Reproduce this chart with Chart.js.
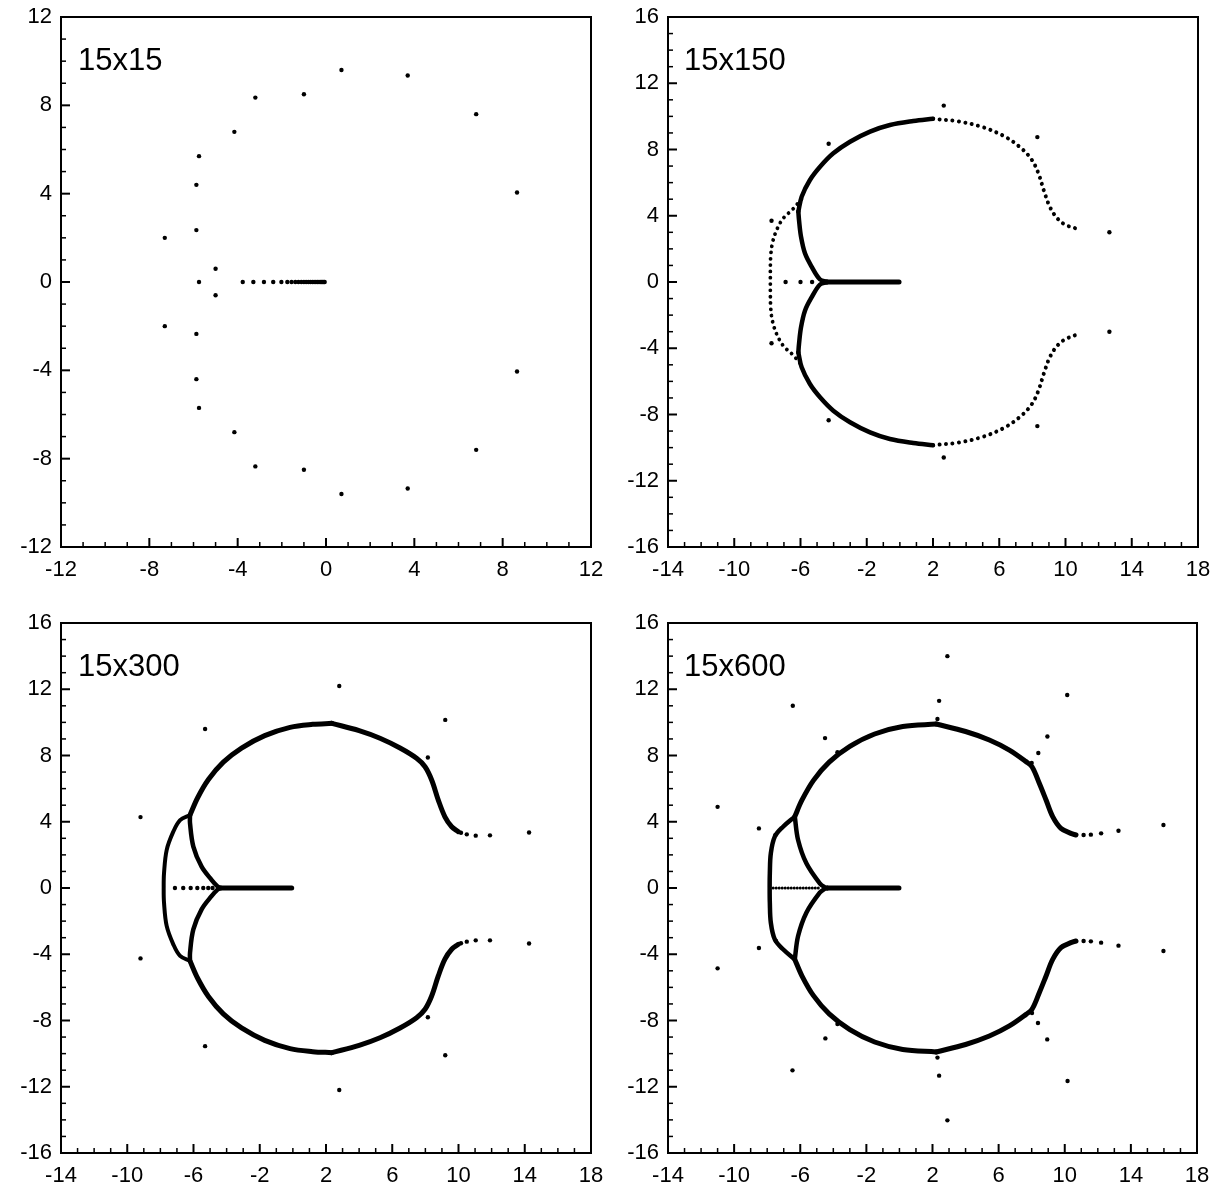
<!DOCTYPE html>
<html>
<head>
<meta charset="utf-8">
<script src="https://cdn.jsdelivr.net/npm/chart.js@4.4.0/dist/chart.umd.min.js"></script>
<style>
  html, body { margin: 0; padding: 0; background: #fff; }
  #wrap { position: relative; width: 1216px; height: 1188px; background: #fff; overflow: hidden; }
  canvas { position: absolute; }
  .lbl { position: absolute; font-family: 'Liberation Sans', Arial, Helvetica, sans-serif; font-size: 31px; line-height: 31px; color: #000; white-space: nowrap; }
</style>
</head>
<body>
<div id="wrap">
  <canvas id="c1" width="608" height="600" style="left:0;top:0;width:608px;height:600px"></canvas>
  <canvas id="c2" width="608" height="600" style="left:608px;top:0;width:608px;height:600px"></canvas>
  <canvas id="c3" width="608" height="588" style="left:0;top:600px;width:608px;height:588px"></canvas>
  <canvas id="c4" width="608" height="588" style="left:608px;top:600px;width:608px;height:588px"></canvas>
  <div class="lbl" style="left:78px;top:44px">15x15</div>
  <div class="lbl" style="left:684px;top:44px">15x150</div>
  <div class="lbl" style="left:78px;top:650px">15x300</div>
  <div class="lbl" style="left:684px;top:650px">15x600</div>
</div>
<script>
// ---------- tick labels ----------
const ticks1 = [-12, -8, -4, 0, 4, 8, 12];
const ticksX = [-14, -10, -6, -2, 2, 6, 10, 14, 18];
const ticksY = [-16, -12, -8, -4, 0, 4, 8, 12, 16];

// ---------- panel 1 : 15x15 ----------
const p1Dots = [[0.7,9.6],[3.7,9.35],[-1.0,8.5],[-3.2,8.35],[6.8,7.6],[-4.15,6.8],[-5.75,5.7],[-5.87,4.4],[8.65,4.05],
  [-5.87,2.35],[-7.3,2.0],[-5.0,0.6],[-5.75,0],[-5.0,-0.6],[-7.3,-2.0],[-5.87,-2.35],[-5.87,-4.4],[-5.75,-5.7],
  [-4.15,-6.8],[-3.2,-8.35],[-1.0,-8.5],[0.7,-9.6],[3.7,-9.35],[6.8,-7.6],[8.65,-4.05]];
const p1Axis = [[-3.77,0],[-3.29,0],[-2.81,0],[-2.39,0],[-2.02,0],[-1.75,0],[-1.56,0],[-1.39,0],[-1.25,0],[-1.12,0],
  [-1.0,0],[-0.9,0],[-0.8,0],[-0.71,0],[-0.62,0],[-0.54,0],[-0.46,0],[-0.39,0],[-0.32,0],[-0.26,0],[-0.2,0],[-0.15,0],[-0.1,0],[-0.06,0]];

// ---------- panel 2 : 15x150 ----------
const p2Dots = [[-4.3,8.35],[2.65,10.65],[8.3,8.75],[12.65,3.0],[-7.75,3.7],[-6.9,0],[-6.0,0],[-5.3,0],
  [-7.75,-3.7],[-4.3,-8.35],[2.65,-10.6],[8.3,-8.7],[12.65,-3.0]];
const p2Axis = [[-4.4,0],[-0.05,0]];
const p2InnerUp = [[-4.4,0.02],[-4.82,0.15],[-5.33,0.93],[-5.73,1.73],[-5.97,2.74],[-6.09,3.74],[-6.13,4.25]];
const p2InnerDn = [[-4.4,-0.02],[-4.82,-0.15],[-5.33,-0.93],[-5.73,-1.73],[-5.97,-2.74],[-6.09,-3.74],[-6.13,-4.25]];
const p2ArcUp = [[-6.13,4.25],[-5.93,5.15],[-5.43,6.16],[-4.82,6.96],[-4.02,7.77],[-3.01,8.47],[-1.8,9.08],[-0.6,9.48],[0.81,9.72],[2.0,9.85]];
const p2ArcDn = [[-6.13,-4.25],[-5.93,-5.15],[-5.43,-6.16],[-4.82,-6.96],[-4.02,-7.77],[-3.01,-8.47],[-1.8,-9.08],[-0.6,-9.48],[0.81,-9.72],[2.0,-9.85]];
const p2RightUp = [[2.0,9.85],[3.5,9.7],[5.0,9.35],[6.3,8.8],[7.3,8.1],[7.95,7.4],[8.35,6.6],[8.7,5.5],[9.05,4.55],[9.5,3.85],[10.0,3.45],[10.75,3.2]];
const p2RightDn = [[2.0,-9.85],[3.5,-9.7],[5.0,-9.35],[6.3,-8.8],[7.3,-8.1],[7.95,-7.4],[8.35,-6.6],[8.7,-5.5],[9.05,-4.55],[9.5,-3.85],[10.0,-3.45],[10.75,-3.15]];
const p2Outer = [[-5.95,5.0],[-6.47,4.39],[-7.04,3.85],[-7.44,3.14],[-7.7,2.33],[-7.8,1.53],[-7.82,0.72],[-7.82,0],
  [-7.82,-0.72],[-7.8,-1.53],[-7.7,-2.33],[-7.44,-3.14],[-7.04,-3.85],[-6.47,-4.39],[-5.95,-5.0]];

// ---------- panel 3 : 15x300 ----------
const p3Dots = [[2.8,12.2],[-5.3,9.6],[9.2,10.15],[8.15,7.88],[-9.2,4.28],[14.26,3.35],[11.9,3.18],[11.04,3.16],[10.5,3.24],[10.15,3.34],
  [2.8,-12.2],[-5.3,-9.55],[9.2,-10.1],[8.15,-7.8],[-9.2,-4.25],[14.26,-3.35],[11.9,-3.16],[11.04,-3.16],[10.5,-3.24],[10.15,-3.34],
  [-7.12,0],[-6.62,0],[-6.17,0],[-5.77,0],[-5.41,0],[-5.11,0],[-4.85,0]];
const p3Axis = [[-4.35,0],[-0.07,0]];
const p3InnerUp = [[-4.35,0.0],[-4.55,0.1],[-4.9,0.48],[-5.51,1.29],[-6.01,2.5],[-6.21,3.91],[-6.21,4.41]];
const p3InnerDn = [[-4.35,0.0],[-4.55,-0.1],[-4.9,-0.48],[-5.51,-1.29],[-6.01,-2.5],[-6.21,-3.91],[-6.21,-4.41]];
const p3ArcUp = [[-6.21,4.41],[-5.75,5.45],[-5.1,6.55],[-4.2,7.6],[-3.1,8.45],[-1.7,9.2],[-0.17,9.7],[1.2,9.88],[2.35,9.94]];
const p3ArcDn = [[-6.21,-4.41],[-5.75,-5.45],[-5.1,-6.55],[-4.2,-7.6],[-3.1,-8.45],[-1.7,-9.2],[-0.17,-9.7],[1.2,-9.88],[2.35,-9.94]];
const p3RightUp = [[2.35,9.94],[4.0,9.5],[5.26,9.04],[6.47,8.45],[7.47,7.83],[7.98,7.32],[8.38,6.52],[8.78,5.31],[9.18,4.3],[9.59,3.7],[9.99,3.4]];
const p3RightDn = [[2.35,-9.94],[4.0,-9.5],[5.26,-9.04],[6.47,-8.45],[7.47,-7.83],[7.98,-7.32],[8.38,-6.52],[8.78,-5.31],[9.18,-4.3],[9.59,-3.7],[9.99,-3.4]];
const p3Outer = [[-6.21,4.41],[-6.81,4.1],[-7.22,3.4],[-7.62,2.29],[-7.78,0.89],[-7.8,0],[-7.78,-0.89],[-7.62,-2.29],[-7.22,-3.4],[-6.81,-4.1],[-6.21,-4.41]];

// ---------- panel 4 : 15x600 ----------
const p4Dots = [[2.9,14.0],[2.4,11.3],[2.3,10.2],[-6.45,11.0],[-4.5,9.05],[-3.75,8.2],[-8.5,3.6],[-7.5,3.2],[-11.0,4.9],
  [10.15,11.65],[8.95,9.15],[8.4,8.15],[8.0,7.55],[15.97,3.8],[13.25,3.46],[12.2,3.3],[11.58,3.22],[11.14,3.2],
  [2.9,-14.03],[2.4,-11.33],[2.3,-10.24],[-6.47,-11.01],[-4.48,-9.08],[-3.75,-8.21],[-8.5,-3.62],[-7.48,-3.18],[-11.0,-4.85],
  [10.17,-11.65],[8.94,-9.14],[8.38,-8.15],[8.02,-7.55],[15.97,-3.8],[13.25,-3.48],[12.2,-3.3],[11.58,-3.22],[11.14,-3.2]];
const p4AxisDots = [[-7.64,0],[-4.8,0]];
const p4Axis = [[-4.35,0],[-0.03,0]];
const p4InnerUp = [[-4.35,0.0],[-4.52,0.05],[-4.82,0.28],[-5.63,1.49],[-6.13,2.9],[-6.33,4.31]];
const p4InnerDn = [[-4.35,0.0],[-4.52,-0.05],[-4.82,-0.28],[-5.63,-1.49],[-6.13,-2.9],[-6.33,-4.31]];
const p4ArcUp = [[-6.33,4.31],[-5.9,5.3],[-5.2,6.5],[-4.25,7.6],[-3.0,8.55],[-1.5,9.3],[0.2,9.75],[2.22,9.9]];
const p4ArcDn = [[-6.33,-4.31],[-5.9,-5.3],[-5.2,-6.5],[-4.25,-7.6],[-3.0,-8.55],[-1.5,-9.3],[0.2,-9.75],[2.22,-9.9]];
const p4RightUp = [[2.22,9.9],[4.0,9.45],[5.44,8.94],[6.65,8.33],[7.66,7.63],[8.02,7.32],[8.46,6.32],[8.87,5.31],[9.27,4.31],[9.77,3.6],[10.37,3.3],[10.68,3.2]];
const p4RightDn = [[2.22,-9.9],[4.0,-9.45],[5.44,-8.94],[6.65,-8.33],[7.66,-7.63],[8.02,-7.32],[8.46,-6.32],[8.87,-5.31],[9.27,-4.31],[9.77,-3.6],[10.37,-3.3],[10.68,-3.2]];
const p4Outer = [[-6.33,4.31],[-7.04,3.7],[-7.54,3.1],[-7.78,2.09],[-7.84,0.89],[-7.85,0],[-7.84,-0.89],[-7.78,-2.09],[-7.54,-3.1],[-7.04,-3.7],[-6.33,-4.31]];

// ---------- helpers ----------
const FONT = "'Liberation Sans', Arial, Helvetica, sans-serif";
function dots(data, r) {
  return { data, showLine: false, pointRadius: r || 2.2, pointHoverRadius: r || 2.2, backgroundColor: '#000', borderWidth: 0, pointBorderWidth: 0 };
}
function solid(data, w, tension) {
  return { data, showLine: true, pointRadius: 0, borderColor: '#000', borderWidth: w, tension: tension === undefined ? 0.35 : tension,
           borderCapStyle: 'round', borderJoinStyle: 'round' };
}
function dotted(data, w, gap, tension) {
  return { data, showLine: true, pointRadius: 0, borderColor: '#000', borderWidth: w, tension: tension === undefined ? 0.35 : tension,
           borderCapStyle: 'round', borderJoinStyle: 'round', borderDash: [0.01, gap] };
}

const frameTicks = {
  id: 'frameTicks',
  afterDraw(chart) {
    const { ctx, chartArea: a, scales } = chart;
    ctx.save();
    ctx.strokeStyle = '#000';
    ctx.lineCap = 'butt';
    const xs = scales.x, ys = scales.y;
    const mx = xs.ticks.map(t => t.value), my = ys.ticks.map(t => t.value);
    for (let v = Math.ceil(xs.min); v <= xs.max; v++) {
      const major = mx.includes(v);
      const p = xs.getPixelForValue(v);
      ctx.lineWidth = major ? 2 : 1.5;
      ctx.beginPath(); ctx.moveTo(p, a.bottom); ctx.lineTo(p, a.bottom - (major ? 9 : 5)); ctx.stroke();
    }
    for (let v = Math.ceil(ys.min); v <= ys.max; v++) {
      const major = my.includes(v);
      const p = ys.getPixelForValue(v);
      ctx.lineWidth = major ? 2 : 1.5;
      ctx.beginPath(); ctx.moveTo(a.left, p); ctx.lineTo(a.left + (major ? 9 : 5), p); ctx.stroke();
    }
    ctx.lineWidth = 2;
    ctx.strokeRect(a.left, a.top, a.right - a.left, a.bottom - a.top);
    ctx.restore();
  }
};

function makeChart(id, datasets, xr, yr, xt, yt, pad, yW, xH) {
  new Chart(document.getElementById(id), {
    type: 'scatter',
    data: { datasets },
    options: {
      responsive: false, animation: false, events: [],
      layout: { padding: pad },
      plugins: { legend: { display: false }, tooltip: { enabled: false } },
      scales: {
        x: {
          type: 'linear', position: 'bottom', min: xr[0], max: xr[1],
          grid: { display: false, drawTicks: false }, border: { display: false },
          afterBuildTicks: s => { s.ticks = xt.map(v => ({ value: v })); },
          afterFit: s => { s.height = xH; s.paddingLeft = 0; s.paddingRight = 0; },
          ticks: { autoSkip: false, maxRotation: 0, padding: 10, color: '#000', font: { family: FONT, size: 22 } }
        },
        y: {
          type: 'linear', position: 'left', min: yr[0], max: yr[1],
          grid: { display: false, drawTicks: false }, border: { display: false },
          afterBuildTicks: s => { s.ticks = yt.map(v => ({ value: v })); },
          afterFit: s => { s.width = yW; s.paddingTop = 0; s.paddingBottom = 0; },
          ticks: { autoSkip: false, padding: 9, color: '#000', font: { family: FONT, size: 22 } }
        }
      }
    },
    plugins: [frameTicks]
  });
}

// panel 1
makeChart('c1', [dots(p1Dots), dots(p1Axis)], [-12, 12], [-12, 12], ticks1, ticks1,
  { left: 0, top: 17, right: 17, bottom: 0 }, 61, 53);

// panel 2
makeChart('c2', [
  solid(p2Axis, 5, 0), solid(p2InnerUp, 4.5), solid(p2InnerDn, 4.5), solid(p2ArcUp, 4.5), solid(p2ArcDn, 4.5),
  dotted(p2RightUp, 4, 6.5), dotted(p2RightDn, 4, 6.5), dotted(p2Outer, 3.8, 6.3), dots(p2Dots)
], [-14, 18], [-16, 16], ticksX, ticksY, { left: 0, top: 17, right: 18, bottom: 0 }, 60, 53);

// panel 3
makeChart('c3', [
  solid(p3Axis, 5, 0), solid(p3InnerUp, 4.5), solid(p3InnerDn, 4.5), solid(p3ArcUp, 5), solid(p3ArcDn, 5),
  solid(p3RightUp, 5), solid(p3RightDn, 5), solid(p3Outer, 4), dots(p3Dots)
], [-14, 18], [-16, 16], ticksX, ticksY, { left: 0, top: 23, right: 17, bottom: 0 }, 61, 35);

// panel 4
makeChart('c4', [
  solid(p4Axis, 5, 0), dotted(p4AxisDots, 3, 3, 0), solid(p4InnerUp, 4.5), solid(p4InnerDn, 4.5), solid(p4ArcUp, 5), solid(p4ArcDn, 5),
  solid(p4RightUp, 5), solid(p4RightDn, 5), solid(p4Outer, 4.5), dots(p4Dots)
], [-14, 18], [-16, 16], ticksX, ticksY, { left: 0, top: 23, right: 19, bottom: 0 }, 60, 35);
</script>
</body>
</html>
